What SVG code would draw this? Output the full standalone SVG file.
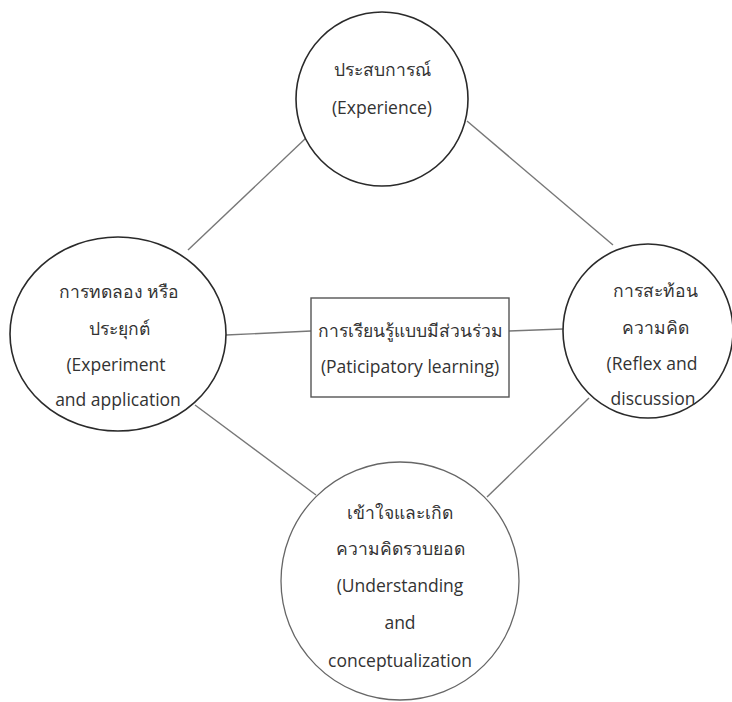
<svg xmlns="http://www.w3.org/2000/svg" width="732" height="702" viewBox="0 0 732 702">
<style>
.node{fill:#fff;stroke:#2a2a2a;stroke-width:1.6}
.light{stroke:#666;stroke-width:1.3}
.box{fill:#fff;stroke:#555;stroke-width:1.4}
.conn line{stroke:#777;stroke-width:1.4}
text{font-family:"Open Sans","Noto Sans","DejaVu Sans",sans-serif;font-size:17.5px;fill:#333;text-anchor:middle;dominant-baseline:central}
</style>
<rect width="732" height="702" fill="#fff"/>
<g id="connectors" class="conn">
<line x1="188" y1="250" x2="306" y2="138"/>
<line x1="467" y1="121" x2="613" y2="245"/>
<line x1="226" y1="335" x2="311" y2="331"/>
<line x1="509" y1="331" x2="563" y2="329"/>
<line x1="195" y1="405" x2="316" y2="495"/>
<line x1="589" y1="398" x2="487" y2="497"/>
</g>
<g id="experience">
<ellipse class="node" cx="382" cy="99" rx="86" ry="87"/>
<text x="382" y="69">ประสบการณ์</text>
<text x="382" y="107">(Experience)</text>
</g>
<g id="experiment">
<ellipse class="node" cx="118" cy="334" rx="108" ry="97"/>
<text x="119" y="291">การทดลอง หรือ</text>
<text x="119" y="328">ประยุกต์</text>
<text x="116" y="364">(Experiment</text>
<text x="118" y="399">and application</text>
</g>
<g id="reflex">
<ellipse class="node" cx="648" cy="331" rx="85" ry="87"/>
<text x="655" y="290">การสะท้อน</text>
<text x="655" y="327">ความคิด</text>
<text x="652" y="363">(Reflex and</text>
<text x="653" y="398">discussion</text>
</g>
<g id="participatory">
<rect class="box" x="311" y="298" width="198" height="99"/>
<text x="410" y="330">การเรียนรู้แบบมีส่วนร่วม</text>
<text x="410" y="366">(Paticipatory learning)</text>
</g>
<g id="understanding">
<ellipse class="node light" cx="400" cy="581" rx="119" ry="119"/>
<text x="400" y="512">เข้าใจและเกิด</text>
<text x="400" y="548">ความคิดรวบยอด</text>
<text x="400" y="585">(Understanding</text>
<text x="400" y="622">and</text>
<text x="400" y="660">conceptualization</text>
</g>
</svg>
